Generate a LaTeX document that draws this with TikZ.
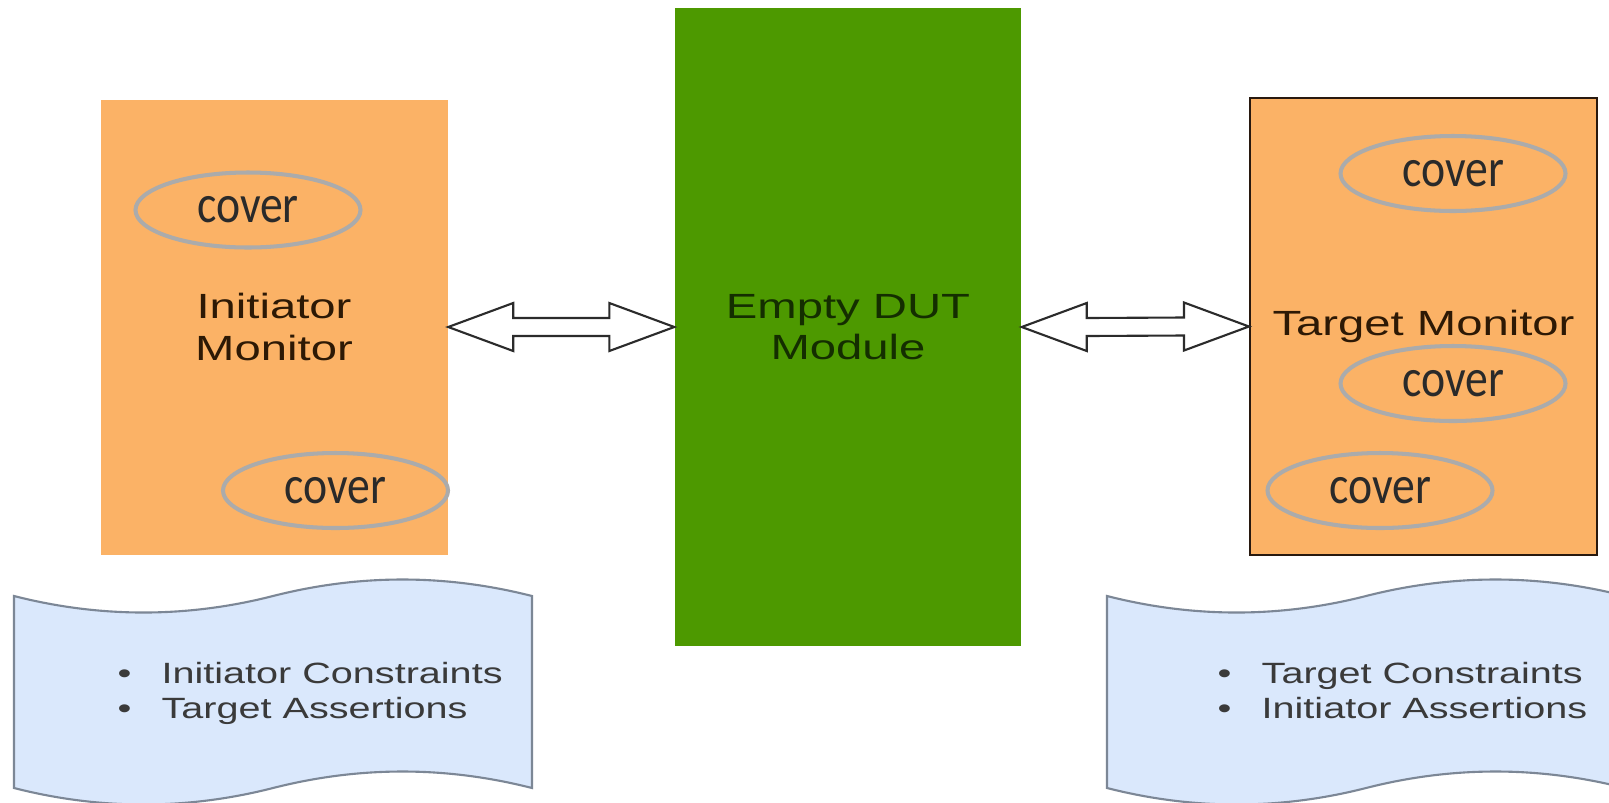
\documentclass[tikz,border=0pt]{standalone}
\usepackage{fontspec}
\usepackage{tikz}
\usetikzlibrary{calc,shapes.geometric}
\newfontfamily\boxfont[FakeStretch=1.35]{Liberation Sans}
\newfontfamily\coverfont[FakeStretch=0.85]{Carlito}
\definecolor{monorange}{HTML}{FBB266}
\definecolor{dutgreen}{HTML}{4D9900}
\definecolor{tapeblue}{HTML}{DAE8FC}
\definecolor{tapeline}{HTML}{7C8796}
\definecolor{covergray}{HTML}{ABABAB}
\definecolor{arrowline}{HTML}{2B2B2B}
\definecolor{montext}{HTML}{2D1905}
\definecolor{duttext}{HTML}{142E00}
\definecolor{listtext}{HTML}{3A3A3A}
\definecolor{covertext}{HTML}{2A2A2A}
\definecolor{tmline}{HTML}{28190F}

% hollow two-headed block arrow between two anchors
\newcommand{\dblarrow}[2]{%
  \draw[blockarrow] let \p1=(#1), \p2=(#2) in
    (\p1) -- (\x1+6.5mm,\y1+2.4mm) -- (\x1+6.5mm,\y1+0.9mm)
    -- (\x2-6.5mm,\y2+0.9mm) -- (\x2-6.5mm,\y2+2.4mm) -- (\p2)
    -- (\x2-6.5mm,\y2-2.4mm) -- (\x2-6.5mm,\y2-0.9mm)
    -- (\x1+6.5mm,\y1-0.9mm) -- (\x1+6.5mm,\y1-2.4mm) -- cycle;}

\begin{document}
\begin{tikzpicture}[
monitor/.style={
	rectangle, fill=monorange,
	minimum width=3.47cm, minimum height=4.55cm,
	inner sep=0pt, align=center, text=montext,
	font=\boxfont\fontsize{9.96pt}{11.7pt}\selectfont
},
dut/.style={
	rectangle, fill=dutgreen,
	minimum width=3.46cm, minimum height=6.38cm,
	inner sep=0pt, align=center, text=duttext,
	font=\boxfont\fontsize{9.96pt}{11.7pt}\selectfont
},
cover/.style={
	ellipse, draw=covergray, line width=1.15pt,
	minimum width=2.25cm, minimum height=0.75cm,
	text=covertext, font=\coverfont\fontsize{15.3pt}{18pt}\selectfont
},
tape/.style={fill=tapeblue, draw=tapeline, line width=0.6pt},
listline/.style={
	anchor=base west, inner sep=0pt, text=listtext,
	font=\boxfont\fontsize{8.34pt}{10pt}\selectfont
},
blockarrow/.style={fill=white, draw=arrowline, line width=0.6pt, line join=miter}
]
\useasboundingbox[fill=white] (0,0) rectangle (16.09,-8.02);

% constraint / assertion sheets
\foreach \x in {0.14,11.07}
{
	\draw[tape, shift={(\x,0)}]
		(0,-5.96) .. controls (0.863,-6.18) and (1.727,-6.18) .. (2.59,-5.96)
		.. controls (3.453,-5.74) and (4.317,-5.74) .. (5.18,-5.96) -- (5.18,-7.88)
		.. controls (4.317,-7.66) and (3.453,-7.66) .. (2.59,-7.88)
		.. controls (1.727,-8.10) and (0.863,-8.10) .. (0,-7.88) -- cycle;
}

\node[monitor] (im) at (2.74,-3.27) {Initiator\\Monitor};
\node[dut] (dut) at (8.48,-3.27) {Empty DUT\\Module};
\node[monitor, draw=tmline, line width=0.6pt, minimum height=4.57cm] (tm) at (14.235,-3.265) {Target Monitor};

\node[cover] (lc1) at (2.48,-2.10) {cover};
\node[cover] (lc2) at (3.355,-4.905) {cover};
\node[cover] (rc1) at (14.53,-1.735) {cover};
\node[cover] (rc2) at (14.53,-3.835) {cover};
\node[cover] (rc3) at (13.80,-4.905) {cover};

\dblarrow{im.east}{dut.west}
\dblarrow{dut.east}{tm.west}

\node[listline] (ic) at (1.17,-6.83) {\makebox[0.44cm][l]{\textbullet}Initiator Constraints};
\node[listline] (ta) at (1.17,-7.18) {\makebox[0.44cm][l]{\textbullet}Target Assertions};
\node[listline] (tc) at (12.17,-6.83) {\makebox[0.44cm][l]{\textbullet}Target Constraints};
\node[listline] (ia) at (12.17,-7.18) {\makebox[0.44cm][l]{\textbullet}Initiator Assertions};
\end{tikzpicture}
\end{document}
